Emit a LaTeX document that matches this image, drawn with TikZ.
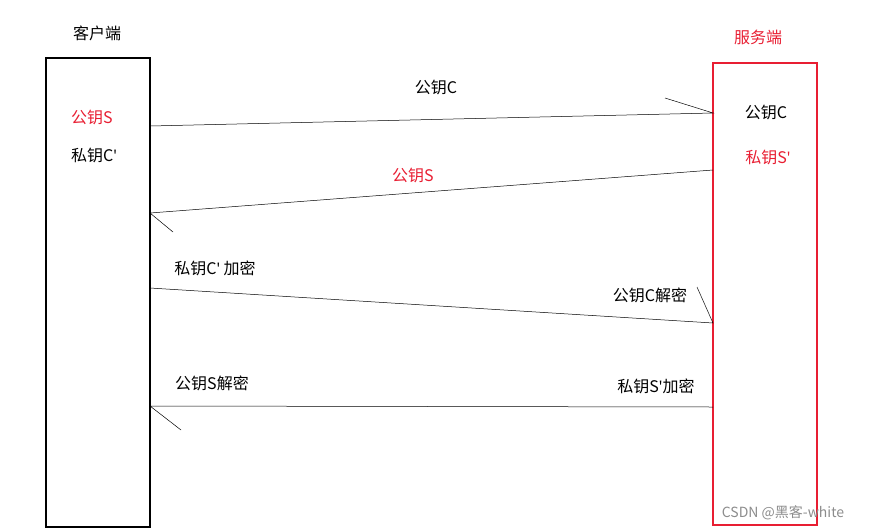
\documentclass[tikz,border=0pt]{standalone}
\usepackage{fontspec}
\setmainfont{Noto Sans CJK SC}
\newfontfamily\lat{Noto Sans}
\usetikzlibrary{positioning}
\definecolor{redline}{RGB}{232,30,50}
\newcommand{\pr}{{\lat'}}
\begin{document}
\begin{tikzpicture}[x=1pt, y=-1pt,
    every node/.style={font=\fontsize{16}{18}\selectfont, inner sep=1pt},
    party/.style={draw, line width=2pt},
    msg/.style={line width=0.5pt},
    redtext/.style={text=redline}]
    \useasboundingbox (0,0) rectangle (871,531);
    % Parties
    \draw[party] (46,58) rectangle (150,527);
    \draw[party, draw=redline] (713,63) rectangle (817,525);
    \node (client) at (97,33) {客户端};
    \node[redtext] (server) at (758,37) {服务端};
    \node[redtext] (ckeyS) at (92,117) {公钥S};
    \node (ckeyC) at (94,155) {私钥C\pr};
    \node (skeyC) at (766,112) {公钥C};
    \node[redtext] (skeyS) at (768,157) {私钥S\pr};
    % Message ends
    \coordinate (a1) at (150,126); \coordinate (b1) at (713,113);
    \coordinate (a2) at (713,170); \coordinate (b2) at (150,213);
    \coordinate (a3) at (150,288); \coordinate (b3) at (713,323);
    \coordinate (a4) at (713,407); \coordinate (b4) at (150,406);
    % Arrows
    \draw[msg] (a1) -- (b1) -- ++(-48,-15);
    \draw[msg] (a2) -- (b2) -- ++(23,19);
    \draw[msg] (a3) -- (b3) -- ++(-16,-36);
    \draw[msg] (a4) -- (b4) -- ++(31,24);
    % Labels
    \node (m1) at (436,87) {公钥C};
    \node[redtext] (m2) at (413,175) {公钥S};
    \node (m3) at (215,268) {私钥C\pr\ 加密};
    \node (m3r) at (650,295) {公钥C解密};
    \node (m4) at (212,383) {公钥S解密};
    \node (m4r) at (656,386) {私钥S\pr 加密};
    \node[text=black!45, font=\fontsize{14}{16}\selectfont] (mark) at (783,513) {CSDN @黑客-white};
\end{tikzpicture}
\end{document}
